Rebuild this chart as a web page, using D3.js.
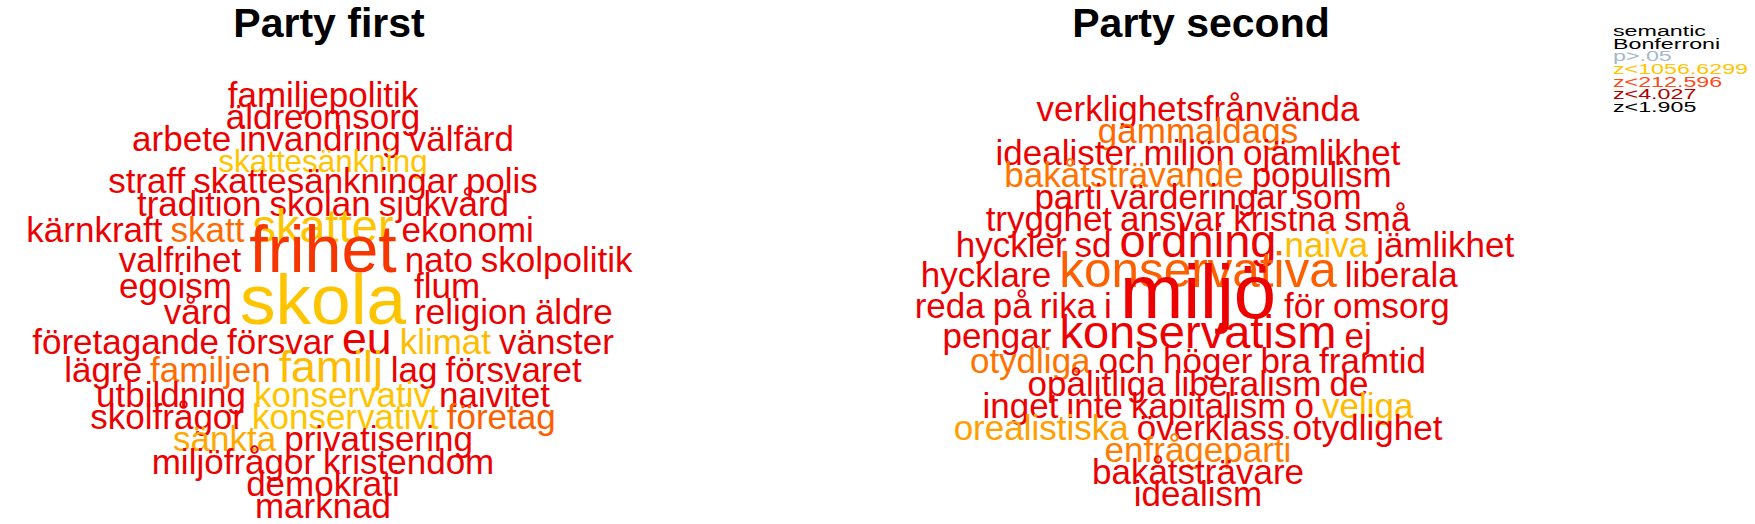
<!DOCTYPE html>
<html>
<head>
<meta charset="utf-8">
<script src="https://cdn.jsdelivr.net/npm/d3@7/dist/d3.min.js"></script>
<style>
  body { margin: 0; background: white; }
  text { font-family: "Liberation Sans", Arial, sans-serif; }
</style>
</head>
<body>
<script>
// ---- data: Party first ----
const firstWords = ["familjepolitik","äldreomsorg","arbete","invandring","välfärd","skattesänkning",
  "straff","skattesänkningar","polis","tradition","skolan","sjukvård","kärnkraft","skatt","skatter",
  "ekonomi","valfrihet","frihet","nato","skolpolitik","egoism","skola","flum","vård","religion","äldre",
  "företagande","försvar","eu","klimat","vänster","lägre","familjen","familj","lag","försvaret",
  "utbildning","konservativ","naivitet","skolfrågor","konservativt","företag","sänkta","privatisering",
  "miljöfrågor","kristendom","demokrati","marknad"];
const firstFreq = [3,3,3,3,3,1.5, 3,3,3,3,3,3,3,3,8, 3,3,16,3,3,3,18,3,3,3,3,
  3,3,7,3,3,3,3,7,3,3, 3,3,3,3,3,3,3,3, 3,3,3,3];
// colour level: 0 = yellow, 0.5 = orange, 1 = red
const firstShade = [1,1,1,1,1,0, 1,1,1,1,1,1,1,0.5,0, 1,1,0.75,1,1,1,0,1,1,1,1,
  1,1,1,0.05,1,1,0.5,0.05,1,1, 1,0,1,1,0,0.55,0.15,1, 1,1,1,1];
// words that share a line (a large word is also listed on the lines it reaches into)
const firstRows = [
  ["familjepolitik"],
  ["äldreomsorg"],
  ["arbete","invandring","välfärd"],
  ["skattesänkning"],
  ["straff","skattesänkningar","polis"],
  ["tradition","skolan","sjukvård"],
  ["kärnkraft","skatt","skatter","ekonomi"],
  ["valfrihet","frihet","nato","skolpolitik"],
  ["egoism","skola","flum"],
  ["vård","skola","religion","äldre"],
  ["företagande","försvar","eu","klimat","vänster"],
  ["lägre","familjen","familj","lag","försvaret"],
  ["utbildning","konservativ","naivitet"],
  ["skolfrågor","konservativt","företag"],
  ["sänkta","privatisering"],
  ["miljöfrågor","kristendom"],
  ["demokrati"],
  ["marknad"]
];

// ---- data: Party second ----
const secondWords = ["verklighetsfrånvända","gammaldags","idealister","miljön","ojämlikhet",
  "bakåtsträvande","populism","parti","värderingar","som","trygghet","ansvar","kristna","små",
  "hyckler","sd","ordning","naiva","jämlikhet","hycklare","konservativa","liberala",
  "reda","på","rika","i","miljö","för","omsorg","pengar","konservatism","ej",
  "otydliga","och","höger","bra","framtid","opålitliga","liberalism","de",
  "inget","inte","kapitalism","o","veliga","orealistiska","överklass","otydlighet",
  "enfrågeparti","bakåtsträvare","idealism"];
const secondFreq = [3,3,3,3,3, 3,3,3,3,3,3,3,3,3, 3,3,8,3,3,3,9,3,
  3,3,3,3,20,3,3,3,8,3, 3,3,3,3,3,3,3,3, 3,3,3,3,3,3,3,3, 3,3,3];
const secondShade = [1,0.5,1,1,1, 0.45,1,1,1,1,1,1,1,1, 1,1,1,0.05,1,1,0.55,1,
  1,1,1,1,1,1,1,1,1,1, 0.45,1,1,1,1,1,1,1, 1,1,1,1,0.05,0.2,1,1, 0.4,1,1];
const secondRows = [
  ["verklighetsfrånvända"],
  ["gammaldags"],
  ["idealister","miljön","ojämlikhet"],
  ["bakåtsträvande","populism"],
  ["parti","värderingar","som"],
  ["trygghet","ansvar","kristna","små"],
  ["hyckler","sd","ordning","naiva","jämlikhet"],
  ["hycklare","konservativa","liberala"],
  ["reda","på","rika","i","miljö","för","omsorg"],
  ["pengar","konservatism","ej"],
  ["otydliga","och","höger","bra","framtid"],
  ["opålitliga","liberalism","de"],
  ["inget","inte","kapitalism","o","veliga"],
  ["orealistiska","överklass","otydlighet"],
  ["enfrågeparti"],
  ["bakåtsträvare"],
  ["idealism"]
];

// ---- legend ----
const legendLabels = ["semantic","Bonferroni","p>.05","z<1056.6299","z<212.596","z<4.027","z<1.905"];
const legendColours = ["#000000","#000000","#a6b8cc","#ffc400","#ff4a1a","#b00000","#000000"];

const titles = ["Party first","Party second"];

// ---- setup ----
const W = 1755, H = 524,
  FONT = '"Liberation Sans", Arial, sans-serif',
  GAP = 8,
  BIG = 8,
  CAP = 48;

const sizeScale = d3.scaleLinear().domain([3, 20]).range([35, 76]);
const colour = d3.scaleLinear().domain([0, 0.5, 1]).range(["#ffc400", "#ff6a00", "#ec0000"]);

const ctx = document.createElement("canvas").getContext("2d");

const svg = d3.select("body").append("svg")
  .attr("width", W)
  .attr("height", H)
  .style("background-color", "white");

function cloud(rows, words, freq, shade, cx, yTop, yBottom) {
  const info = new Map();
  words.forEach((w, i) => {
    const size = sizeScale(freq[i]);
    ctx.font = `${size}px ${FONT}`;
    info.set(w, { word: w, size: size, width: ctx.measureText(w).width,
      fill: colour(shade[i]), big: freq[i] >= BIG });
  });

  // a word sits on the last line it is listed in
  rows.forEach((r, ri) => r.forEach(w => { info.get(w).row = ri; }));

  const rowH = rows.map((r, ri) =>
    Math.min(CAP, d3.max(r.filter(w => info.get(w).row === ri), w => info.get(w).size)));
  const cum = [0];
  for (let i = 1; i < rows.length; i++) cum.push(cum[i - 1] + (rowH[i - 1] + rowH[i]) / 2);
  const y = d3.scaleLinear().domain([0, cum[cum.length - 1]]).range([yTop, yBottom]);

  rows.forEach((r, ri) => {
    const anchors = r.filter(w => info.get(w).big);
    if (anchors.length) {
      const half = d3.max(anchors, w => info.get(w).width) / 2;
      const first = r.indexOf(anchors[0]), last = r.indexOf(anchors[anchors.length - 1]);
      let x = cx - half;
      for (let i = first - 1; i >= 0; i--) {
        const d = info.get(r[i]);
        x -= GAP + d.width;
        d.x = x;
      }
      x = cx + half;
      for (let i = last + 1; i < r.length; i++) {
        const d = info.get(r[i]);
        d.x = x + GAP;
        x = d.x + d.width;
      }
      anchors.forEach(w => {
        const d = info.get(w);
        if (d.row === ri) d.x = cx - d.width / 2;
      });
    } else {
      const total = d3.sum(r, w => info.get(w).width) + GAP * (r.length - 1);
      let x = cx - total / 2;
      r.forEach(w => {
        const d = info.get(w);
        d.x = x;
        x += d.width + GAP;
      });
    }
  });

  const data = words.map(w => info.get(w));
  data.forEach(d => { d.y = y(cum[d.row]); });

  svg.append("g").selectAll("text")
    .data(data)
    .enter()
    .append("text")
    .attr("x", d => d.x)
    .attr("y", d => d.y)
    .attr("font-size", d => d.size)
    .attr("fill", d => d.fill)
    .text(d => d.word);
}

cloud(firstRows, firstWords, firstFreq, firstShade, 323, 107, 518);
cloud(secondRows, secondWords, secondFreq, secondShade, 1198, 121, 506);

svg.selectAll(".title")
  .data(titles)
  .enter()
  .append("text")
  .attr("class", "title")
  .attr("x", (d, i) => [329, 1201][i])
  .attr("y", 37)
  .attr("text-anchor", "middle")
  .attr("font-size", 41)
  .attr("font-weight", "bold")
  .attr("fill", "#000")
  .text(d => d);

const ly = d3.scalePoint().domain(legendLabels).range([36, 112]);
svg.append("g").selectAll("text")
  .data(legendLabels)
  .enter()
  .append("text")
  .attr("transform", d => `translate(1613,${ly(d)}) scale(1.55,1)`)
  .attr("font-size", 15)
  .attr("fill", (d, i) => legendColours[i])
  .text(d => d);
</script>
</body>
</html>
